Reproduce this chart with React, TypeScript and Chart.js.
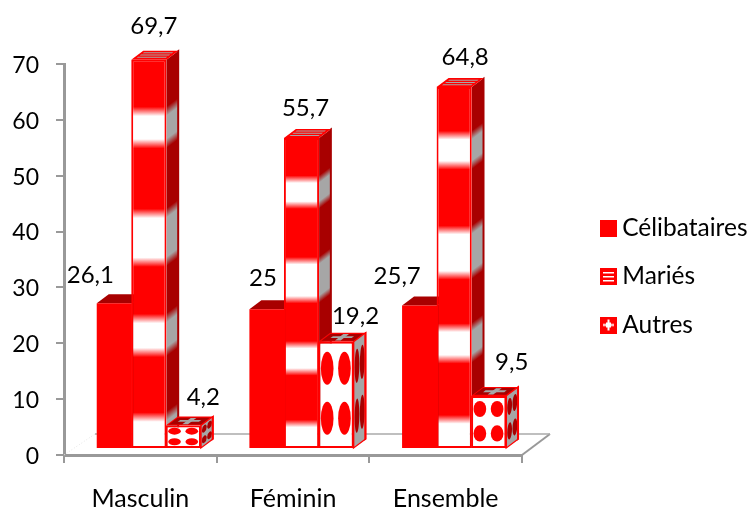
import React, { useEffect, useRef } from "react";
import { Chart, registerables } from "chart.js";

Chart.register(...registerables);

const categories = ["Masculin", "Féminin", "Ensemble"];
const celibataires = [26.1, 25, 25.7];
const maries = [69.7, 55.7, 64.8];
const autres = [4.2, 19.2, 9.5];
const yTicks = [0, 10, 20, 30, 40, 50, 60, 70];
const seriesNames = ["Célibataires", "Mariés", "Autres"];

const RED = "#ff0000";
const DARK = "#a80000";
const GRAY = "#a6a6a6";
const AXIS = "#999999";
const FONT = "Lato";
const SHIFT_X = 8.5;
const SHIFT_Y = -6;
const DEPTH_X = 12;
const DEPTH_Y = 9;
const BANDS = [[0.133, 0.216], [0.395, 0.52], [0.665, 0.752], [0.918, 1.01]];
const LABEL_OFFSETS = [
  [[-24, -28], [-4, -31], [-22.5, -29]],
  [[5, -33], [4, -30], [11, -30]],
  [[20, -28], [19.5, -25], [23, -34]],
];

function fmt(v: number) {
  return String(v).replace(".", ",");
}

function bandGradient(ctx: CanvasRenderingContext2D, top: number, bottom: number, base: string, band: string) {
  const g = ctx.createLinearGradient(0, top, 0, bottom);
  const soft = 0.012;
  g.addColorStop(0, base);
  BANDS.forEach(([a, b]) => {
    g.addColorStop(Math.max(0, a - soft), base);
    g.addColorStop(Math.min(1, a + soft), band);
    if (b < 1) {
      g.addColorStop(b - soft, band);
      g.addColorStop(b + soft, base);
    } else {
      g.addColorStop(1, band);
    }
  });
  return g;
}

function legendIcon(kind: number) {
  const c = document.createElement("canvas");
  c.width = 17;
  c.height = 17;
  const x = c.getContext("2d")!;
  x.fillStyle = RED;
  x.fillRect(0, 0, 17, 17);
  x.fillStyle = "#fff";
  if (kind === 1) {
    x.fillRect(3, 4, 11, 1.5);
    x.fillRect(3, 8, 11, 1.5);
    x.fillRect(3, 12, 11, 1.5);
  } else if (kind === 2) {
    x.fillRect(3, 7.5, 11, 2);
    x.fillRect(7.5, 3, 2, 11);
    x.fillRect(6, 6, 5, 5);
  }
  return c;
}

const bars3d = {
  id: "bars3d",
  beforeUpdate(chart: any) {
    const lg = chart.legend;
    if (lg && !lg.__patched) {
      lg.__patched = true;
      const fit = lg.fit;
      const draw = lg.draw;
      lg.fit = function () {
        fit.call(this);
        this.width = 230;
      };
      lg.draw = function () {
        const c = this.ctx;
        c.save();
        c.translate(61, -10);
        draw.call(this);
        c.restore();
      };
    }
  },
  beforeDatasetsDraw(chart: any) {
    const { ctx, chartArea: a, scales } = chart;
    const y0 = scales.y.getPixelForValue(0);
    const bx = a.right + 28;
    const by = y0 - 21;
    ctx.save();
    ctx.strokeStyle = AXIS;
    ctx.lineWidth = 2;
    ctx.beginPath();
    ctx.moveTo(a.right, y0);
    ctx.lineTo(bx, by);
    ctx.stroke();
    ctx.lineWidth = 1.5;
    ctx.strokeStyle = "#aaaaaa";
    ctx.beginPath();
    ctx.moveTo(a.left + 31, by);
    ctx.lineTo(bx, by);
    ctx.stroke();
    ctx.lineWidth = 1;
    ctx.strokeStyle = "#e4e4e4";
    ctx.setLineDash([1, 2]);
    ctx.beginPath();
    ctx.moveTo(a.left, y0);
    ctx.lineTo(a.left + 31, by);
    ctx.stroke();
    ctx.setLineDash([]);

    ctx.translate(SHIFT_X, SHIFT_Y);
    chart.data.datasets.forEach((_: any, d: number) => {
      chart.getDatasetMeta(d).data.forEach((el: any) => {
        const left = el.x - el.width / 2;
        const right = el.x + el.width / 2;
        const top = el.y;
        const bottom = el.base;
        const h = bottom - top;
        const w = el.width;

        // side face
        ctx.save();
        ctx.transform(1, -DEPTH_Y / DEPTH_X, 0, 1, right, 0);
        if (d === 0) ctx.fillStyle = DARK;
        else if (d === 1) ctx.fillStyle = bandGradient(ctx, top, bottom, DARK, GRAY);
        else ctx.fillStyle = GRAY;
        ctx.fillRect(0, top, DEPTH_X, h);
        if (d === 2) {
          ctx.fillStyle = DARK;
          [0.25, 0.72].forEach((v) => {
            [0.28, 0.72].forEach((u) => {
              ctx.beginPath();
              ctx.ellipse(u * DEPTH_X, top + v * h, 0.2 * DEPTH_X, 0.16 * h, 0, 0, Math.PI * 2);
              ctx.fill();
            });
          });
        }
        if (d > 0) {
          ctx.strokeStyle = d === 1 ? DARK : RED;
          ctx.lineWidth = 1.5;
          ctx.strokeRect(DEPTH_X - 0.5, top, 0.5, h);
          if (d === 2) ctx.strokeRect(0, top, DEPTH_X, h);
        }
        ctx.restore();

        // top face
        ctx.save();
        ctx.transform(1, 0, 1, -DEPTH_Y / DEPTH_X, left, top);
        ctx.fillStyle = d === 0 ? DARK : RED;
        ctx.fillRect(0, 0, w, DEPTH_X);
        if (d === 1) {
          ctx.fillStyle = GRAY;
          ctx.fillRect(3, 2.5, w - 6, 1.3);
          ctx.fillRect(3, 5.5, w - 6, 1.3);
          ctx.fillRect(3, 8.5, w - 6, 1.3);
        }
        if (d === 2) {
          ctx.fillStyle = DARK;
          ctx.fillRect(1.5, 1.5, w - 3, DEPTH_X - 3);
          ctx.fillStyle = GRAY;
          ctx.fillRect(w * 0.2, DEPTH_X * 0.42, w * 0.6, DEPTH_X * 0.2);
          ctx.fillRect(w * 0.42, DEPTH_X * 0.15, w * 0.16, DEPTH_X * 0.7);
        }
        ctx.restore();
      });
    });
    // front faces are drawn by Chart.js inside this same translation
  },
  afterDatasetsDraw(chart: any) {
    const { ctx } = chart;
    // Autres front: ellipses over the library's bar
    chart.getDatasetMeta(2).data.forEach((el: any) => {
      const left = el.x - el.width / 2;
      const h = el.base - el.y;
      ctx.fillStyle = RED;
      [0.25, 0.72].forEach((v) => {
        [0.25, 0.74].forEach((u) => {
          ctx.beginPath();
          ctx.ellipse(left + u * el.width, el.y + v * h, 0.18 * el.width, 0.155 * h, 0, 0, Math.PI * 2);
          ctx.fill();
        });
      });
    });
    ctx.restore();

    ctx.save();
    ctx.fillStyle = "#000";
    ctx.font = `24px ${FONT}`;
    ctx.textAlign = "center";
    ctx.textBaseline = "middle";
    chart.data.datasets.forEach((ds: any, d: number) => {
      chart.getDatasetMeta(d).data.forEach((el: any, i: number) => {
        const [dx, dy] = LABEL_OFFSETS[d][i];
        ctx.fillText(fmt(ds.data[i]), el.x + SHIFT_X + dx, el.y + SHIFT_Y + dy);
      });
    });
    ctx.restore();
  },
};

function mariesFill(c: any) {
  const chart = c.chart;
  const y = chart.scales && chart.scales.y;
  if (!y || !chart.chartArea || c.raw === undefined) return RED;
  return bandGradient(chart.ctx, y.getPixelForValue(c.raw), y.getPixelForValue(0), RED, "#ffffff");
}

export default function App() {
  const ref = useRef<HTMLCanvasElement>(null);
  useEffect(() => {
    document.body.style.margin = "0";
    const common = { barPercentage: 1.02, categoryPercentage: 0.678, clip: false as any, borderColor: RED, borderSkipped: false };
    const chart = new Chart(ref.current!, {
      type: "bar",
      data: {
        labels: categories,
        datasets: [
          { label: seriesNames[0], data: celibataires, backgroundColor: RED, borderWidth: 0, ...common },
          { label: seriesNames[1], data: maries, backgroundColor: mariesFill, borderWidth: 2, ...common },
          { label: seriesNames[2], data: autres, backgroundColor: "#ffffff", borderWidth: 2, ...common },
        ],
      },
      plugins: [bars3d],
      options: {
        responsive: false,
        animation: false,
        layout: { padding: { top: 64, bottom: 0, left: 0, right: 0 } },
        plugins: {
          tooltip: { enabled: false },
          title: { display: false },
          legend: {
            position: "right",
            align: "center",
            labels: {
              usePointStyle: true,
              pointStyleWidth: 3,
              padding: 24,
              color: "#000",
              font: { family: FONT, size: 24.5 },
              generateLabels: () =>
                seriesNames.map((text, i) => ({
                  text,
                  datasetIndex: i,
                  hidden: false,
                  fontColor: "#000",
                  lineWidth: 0,
                  pointStyle: legendIcon(i),
                })),
            },
          },
        },
        scales: {
          x: {
            grid: { drawOnChartArea: false, drawTicks: true, tickLength: 8, color: AXIS, lineWidth: 2 },
            border: { color: AXIS, width: 3 },
            ticks: { color: "#000", font: { family: FONT, size: 25 }, padding: 21, maxRotation: 0 },
            afterFit: (s: any) => {
              s.height = 54;
            },
          },
          y: {
            min: 0,
            max: 70,
            afterBuildTicks: (s: any) => {
              s.ticks = yTicks.map((value) => ({ value }));
            },
            grid: { drawOnChartArea: false, drawTicks: true, tickLength: 8, color: AXIS, lineWidth: 2 },
            border: { color: AXIS, width: 3 },
            ticks: { color: "#000", font: { family: FONT, size: 23 }, padding: 17, labelOffset: 1.5 },
            afterFit: (s: any) => {
              s.width = 64;
            },
          },
        },
      },
    });
    return () => chart.destroy();
  }, []);
  return (
    <div style={{ width: 752, height: 509 }}>
      <canvas ref={ref} width={752} height={509} style={{ display: "block" }} />
    </div>
  );
}
